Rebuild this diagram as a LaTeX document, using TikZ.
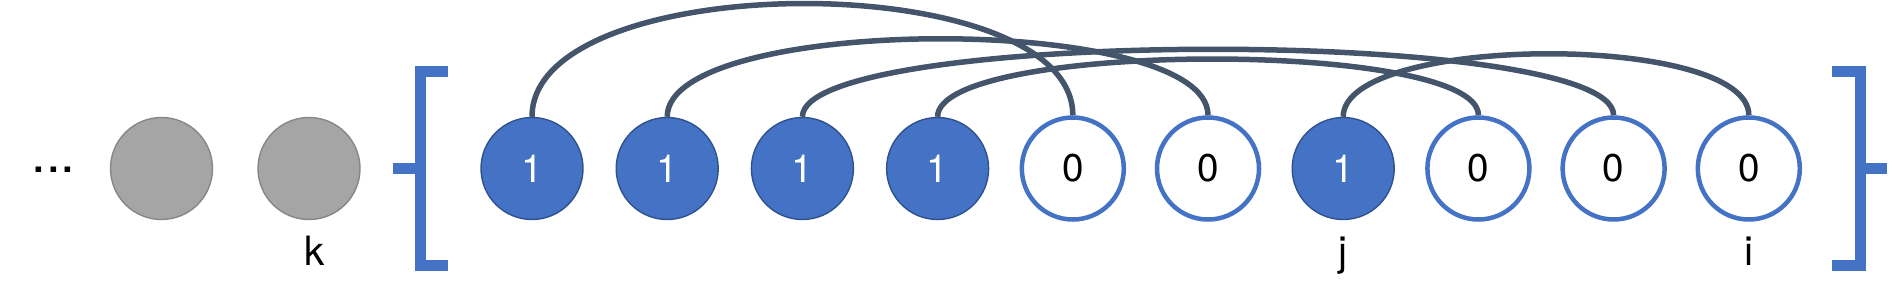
\documentclass[tikz,border=0pt]{standalone}
\usepackage{fontspec}
\setmainfont{TeX Gyre Heros}
\usepackage{tikz}
\usetikzlibrary{positioning}
\definecolor{bitblue}{HTML}{4472C4}
\definecolor{bitedge}{HTML}{2F528F}
\definecolor{linkslate}{HTML}{44546A}
\definecolor{pastgray}{HTML}{A5A5A5}
\definecolor{pastedge}{HTML}{878787}
\tikzset{
  bit/.style = {
    circle, minimum size=1.02cm, inner sep=0pt,
    font=\fontsize{11}{13}\selectfont
  },
  onebit/.style  = {bit, fill=bitblue, draw=bitedge, line width=0.4pt, text=white},
  zerobit/.style = {bit, fill=white, draw=bitblue, line width=0.045cm},
  pastbit/.style = {bit, fill=pastgray, draw=pastedge, line width=0.4pt},
  link/.style    = {draw=linkslate, line width=0.055cm},
  brack/.style   = {draw=bitblue, line width=0.11cm, line join=miter}
}

\begin{document}
\begin{tikzpicture}[
  node distance=1.352cm, on grid,
  idx/.style={font=\fontsize{11.5}{13}\selectfont, inner sep=0pt}
]
\useasboundingbox (0,0) rectangle (18.94,3.00);

%% earlier bits
\node[anchor=base, inner sep=0pt, font=\fontsize{15}{18}\selectfont]
      (dots) at (0.535,1.272) {...};
\node[pastbit] (g1) at (1.615,1.315) {};
\node[pastbit, right=1.475 of g1] (g2) {};

%% window
\node[onebit] (b1) at (5.32,1.315) {1};
\node[onebit,  right=of b1] (b2)  {1};
\node[onebit,  right=of b2] (b3)  {1};
\node[onebit,  right=of b3] (b4)  {1};
\node[zerobit, right=of b4] (b5)  {0};
\node[zerobit, right=of b5] (b6)  {0};
\node[onebit,  right=of b6] (b7)  {1};
\node[zerobit, right=of b7] (b8)  {0};
\node[zerobit, right=of b8] (b9)  {0};
\node[zerobit, right=of b9] (b10) {0};

%% index labels
\node[idx, below=0.97 of g2, anchor=base, xshift=0.06cm] (lk) {k};
\node[idx, below=0.97 of b7, anchor=base]  (lj) {j};
\node[idx, below=0.97 of b10, anchor=base] (li) {i};

%% brackets
\draw[brack] (4.48,2.285) -- (4.20,2.285) -- (4.20,0.35) -- (4.48,0.35);
\draw[brack] (3.93,1.315) -- (4.20,1.315);
\draw[brack] (18.32,2.285) -- (18.60,2.285) -- (18.60,0.35) -- (18.32,0.35);
\draw[brack] (18.60,1.315) -- (18.87,1.315);

%% links
\draw[link] (b1.north) .. controls +(0,1.50) and +(0,1.50) .. (b5.north);
\draw[link] (b2.north) .. controls +(0,1.03) and +(0,1.03) .. (b6.north);
\draw[link] (b3.north) .. controls +(0,0.89) and +(0,0.89) .. (b9.north);
\draw[link] (b4.north) .. controls +(0,0.76) and +(0,0.76) .. (b8.north);
\draw[link] (b7.north) .. controls +(0,0.83) and +(0,0.83) .. (b10.north);

\end{tikzpicture}
\end{document}
